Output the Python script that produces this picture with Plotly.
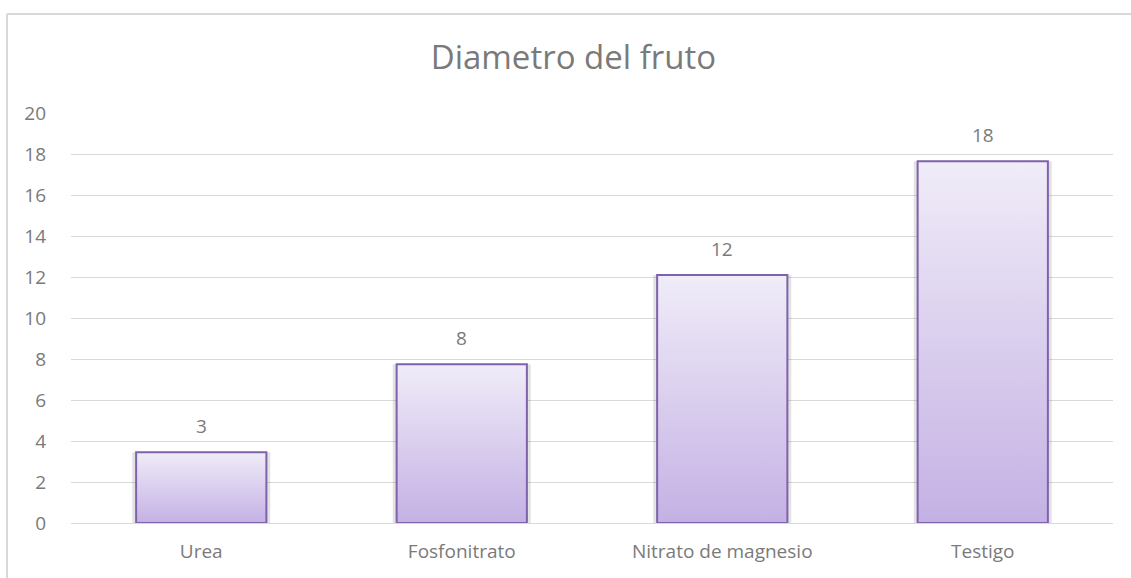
import plotly.graph_objects as go

categorias = ["Urea", "Fosfonitrato", "Nitrato de magnesio", "Testigo"]
diametro = [3.45, 7.75, 12.1, 17.65]
etiquetas = ["3", "8", "12", "18"]
y_ticks = list(range(0, 21, 2))

gris_texto = "#7A7A7A"
ancho = 0.5
posiciones = list(range(len(categorias)))

fig = go.Figure()

# sombra suave detras de cada barra
fig.add_trace(go.Bar(
    x=posiciones, y=diametro, width=ancho + 0.03,
    marker=dict(color="rgba(0,0,0,0.11)", line=dict(width=0)),
    hoverinfo="skip", showlegend=False,
))

# barras con degradado vertical
for i, v in zip(posiciones, diametro):
    x0, x1 = i - ancho / 2, i + ancho / 2
    fig.add_trace(go.Scatter(
        x=[x0, x1, x1, x0, x0], y=[0, 0, v, v, 0],
        mode="lines", fill="toself",
        fillgradient=dict(type="vertical",
                          colorscale=[[0, "#C4B1E4"], [1, "#F0ECF8"]]),
        line=dict(color="#7E62AC", width=2),
        showlegend=False, hoverinfo="skip",
    ))

for i, v, t in zip(posiciones, diametro, etiquetas):
    fig.add_annotation(x=i, y=v, text=t, showarrow=False, yshift=26,
                       font=dict(size=19, color=gris_texto))

# borde del grafico (izquierda y arriba)
fig.add_shape(type="line", xref="paper", yref="paper",
              x0=-0.0614, x1=-0.0614, y0=-0.2, y1=1.2416,
              line=dict(color="#D9D9D9", width=2))
fig.add_shape(type="line", xref="paper", yref="paper",
              x0=-0.0614, x1=1.2, y0=1.2416, y1=1.2416,
              line=dict(color="#D9D9D9", width=2))

fig.update_layout(
    width=1131, height=578,
    margin=dict(l=71, r=18, t=113, b=55),
    paper_bgcolor="white", plot_bgcolor="white",
    font=dict(family="Open Sans", color=gris_texto, size=19),
    title=dict(text="Diametro del fruto", x=0.507, xanchor="center",
               y=0.9, yanchor="middle",
               font=dict(size=33, color=gris_texto)),
    showlegend=False,
    xaxis=dict(range=[-0.5, 3.5], tickvals=posiciones, ticktext=categorias,
               showgrid=False, zeroline=False, showline=False, ticks="",
               ticklabelstandoff=15,
               tickfont=dict(size=19, color=gris_texto)),
    yaxis=dict(range=[0, 20], tickvals=y_ticks, showgrid=True,
               gridcolor="#D9D9D9", gridwidth=1, zeroline=True,
               zerolinecolor="#D9D9D9", zerolinewidth=1, showline=False,
               ticks="", ticklabelstandoff=24,
               tickfont=dict(size=19, color=gris_texto)),
)

fig.write_html("out.html", config={"displayModeBar": False},
               post_script="document.body.style.margin='0';")
